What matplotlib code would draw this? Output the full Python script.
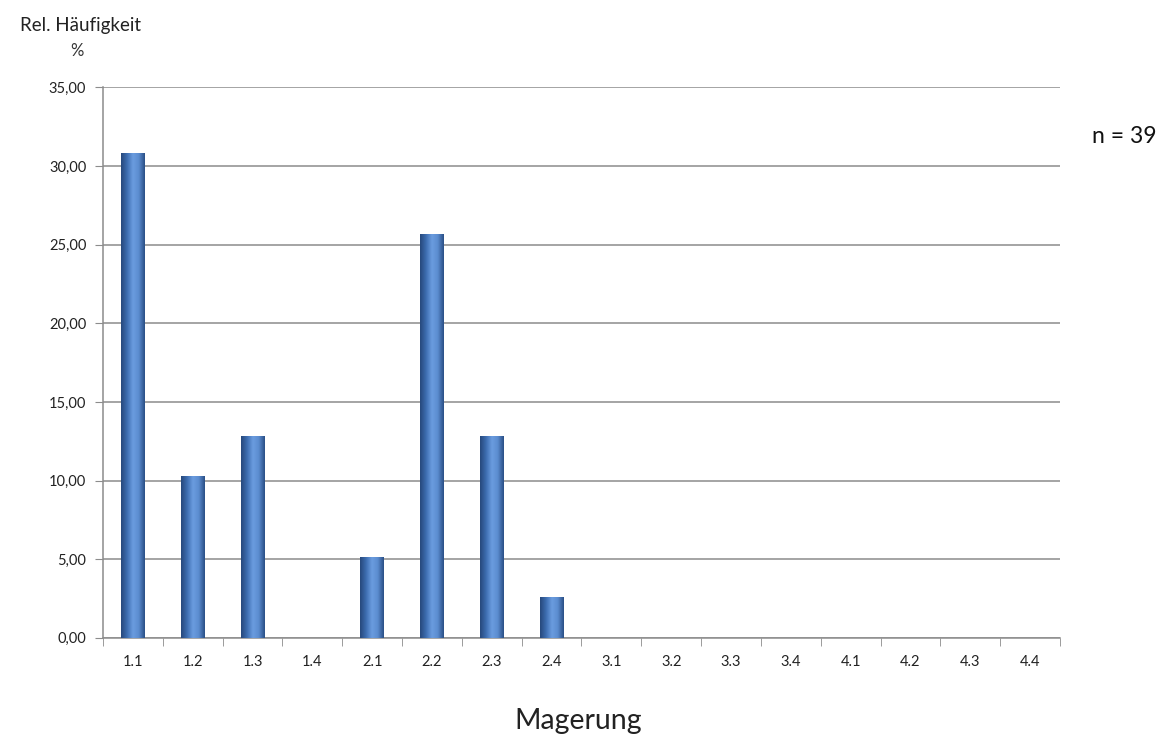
import numpy as np
import matplotlib.pyplot as plt
from matplotlib.colors import LinearSegmentedColormap
from matplotlib.ticker import FuncFormatter, MultipleLocator

categories = ["1.1", "1.2", "1.3", "1.4", "2.1", "2.2", "2.3", "2.4",
              "3.1", "3.2", "3.3", "3.4", "4.1", "4.2", "4.3", "4.4"]
counts = [12, 4, 5, 0, 2, 10, 5, 1, 0, 0, 0, 0, 0, 0, 0, 0]
n_total = 39
percent = [c / n_total * 100 for c in counts]

plt.rcParams['font.family'] = ['Lato', 'DejaVu Sans']

fig = plt.figure(figsize=(11.7, 7.4), dpi=100)
ax = fig.add_axes([0.088, 0.138, 0.818, 0.744])

# Excel-like cylinder shading across each bar
cmap = LinearSegmentedColormap.from_list(
    "bar", ["#27497c", "#3d6db0", "#6b9de0", "#5b8ccf", "#2a4f86"])
grad = np.linspace(0, 1, 64).reshape(1, -1)
width = 0.4
x = np.arange(len(categories))
for xi, h in zip(x, percent):
    if h <= 0:
        continue
    ax.imshow(grad, cmap=cmap, aspect='auto', interpolation='bicubic',
              extent=[xi - width / 2, xi + width / 2, 0, h], zorder=3)

ax.set_xlim(-0.5, len(categories) - 0.5)
ax.set_ylim(0, 35)

ax.yaxis.set_major_locator(MultipleLocator(5))
ax.yaxis.set_major_formatter(FuncFormatter(lambda v, p: f"{v:.2f}".replace(".", ",")))
ax.grid(axis='y', color='#8c8c8c', linewidth=1.1, zorder=1)
ax.set_axisbelow(True)

ax.set_xticks(x)
ax.set_xticklabels(categories)
ax.set_xticks(np.arange(-0.5, len(categories)), minor=True)
ax.tick_params(axis='x', which='major', length=0, pad=12, labelsize=10.5, colors='#222222')
ax.tick_params(axis='x', which='minor', length=6, direction='out', color='#8c8c8c')
ax.tick_params(axis='y', length=6, direction='out', labelsize=10.5, pad=6,
               colors='#8c8c8c', labelcolor='#222222')

for s in ['top', 'right']:
    ax.spines[s].set_visible(False)
for s in ['left', 'bottom']:
    ax.spines[s].set_color('#8c8c8c')
    ax.spines[s].set_linewidth(1.1)

fig.text(0.069, 0.965, "Rel. Häufigkeit", ha='center', va='center', fontsize=13.5, color='#222222')
fig.text(0.066, 0.931, "%", ha='center', va='center', fontsize=12, color='#333333')
fig.text(0.961, 0.815, "n = 39", ha='center', va='center', fontsize=16.5, color='#111111')
fig.text(0.494, 0.025, "Magerung", ha='center', va='center', fontsize=20.5, color='#222222')

fig.savefig("out.png", dpi=100)
